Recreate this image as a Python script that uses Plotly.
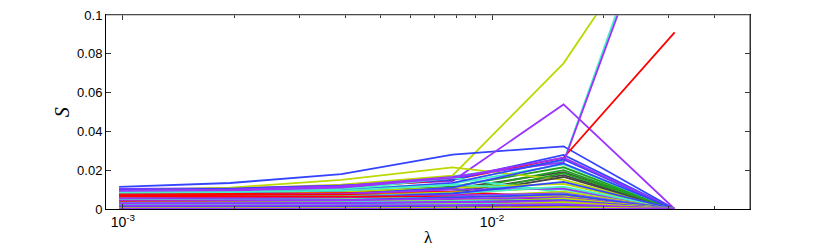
import plotly.graph_objects as go

# lambda values (2^-10 ... 2^-5)
lam = [0.0009765625, 0.001953125, 0.00390625, 0.0078125, 0.015625, 0.03125]

blue_lines = [
    [0.0114, 0.0134, 0.0180, 0.0280, 0.0323, 0],
    [0.0100, 0.0105, 0.0120, 0.0150, 0.0279, 0],
    [0.0080, 0.0085, 0.0095, 0.0135, 0.0255, 0],
    [0.0066, 0.0068, 0.0075, 0.0110, 0.0235, 0],
    [0.0052, 0.0054, 0.0060, 0.0080, 0.0140, 0],
    [0.0040, 0.0042, 0.0045, 0.0060, 0.0075, 0],
    [0.0025, 0.0026, 0.0028, 0.0035, 0.0045, 0],
    [0.0012, 0.0012, 0.0013, 0.0016, 0.0020, 0],
]
yellow_lines = [
    [0.0098, 0.0105, 0.0125, 0.0172, 0.0751, 0.160],
    [0.0094, 0.0110, 0.0150, 0.0214, 0.0150, 0],
    [0.0078, 0.0082, 0.0090, 0.0110, 0.0130, 0],
    [0.0062, 0.0064, 0.0070, 0.0085, 0.0110, 0],
    [0.0048, 0.0050, 0.0054, 0.0062, 0.0090, 0],
    [0.0035, 0.0036, 0.0038, 0.0044, 0.0070, 0],
    [0.0022, 0.0023, 0.0024, 0.0028, 0.0055, 0],
    [0.0010, 0.0010, 0.0011, 0.0013, 0.0035, 0],
    [0.0004, 0.0004, 0.0004, 0.0005, 0.0010, 0],
]
purple_lines = [
    [0.0104, 0.0108, 0.0120, 0.0144, 0.0539, 0],
    [0.0096, 0.0100, 0.0118, 0.0165, 0.0240, 0.180],
    [0.0090, 0.0095, 0.0110, 0.0160, 0.0265, 0],
    [0.0070, 0.0072, 0.0078, 0.0100, 0.0105, 0],
    [0.0056, 0.0057, 0.0060, 0.0070, 0.0080, 0],
    [0.0043, 0.0044, 0.0046, 0.0052, 0.0060, 0],
    [0.0030, 0.0030, 0.0032, 0.0036, 0.0040, 0],
    [0.0017, 0.0017, 0.0018, 0.0020, 0.0025, 0],
    [0.0002, 0.0002, 0.0002, 0.0002, 0.0003, 0],
]
aqua_lines = [
    [0.0099, 0.0103, 0.0118, 0.0168, 0.0245, 0.185],
    [0.0092, 0.0096, 0.0105, 0.0130, 0.0230, 0],
    [0.0088, 0.0092, 0.0100, 0.0160, 0.0085, 0],
    [0.0084, 0.0087, 0.0095, 0.0125, 0.0100, 0],
    [0.0060, 0.0062, 0.0066, 0.0080, 0.0115, 0],
    [0.0046, 0.0047, 0.0050, 0.0060, 0.0075, 0],
    [0.0033, 0.0034, 0.0035, 0.0040, 0.0050, 0],
    [0.0020, 0.0020, 0.0021, 0.0024, 0.0030, 0],
]
red_lines = [
    [0.0086, 0.0090, 0.0110, 0.0150, 0.0264, 0.0910],
    [0.0082, 0.0083, 0.0086, 0.0090, 0.0060, 0],
    [0.0077, 0.0078, 0.0080, 0.0083, 0.0048, 0],
    [0.0071, 0.0072, 0.0073, 0.0075, 0.0040, 0],
    [0.0065, 0.0065, 0.0066, 0.0064, 0.0030, 0],
    [0.0038, 0.0038, 0.0037, 0.0035, 0.0025, 0],
    [0.0015, 0.0015, 0.0015, 0.0014, 0.0012, 0],
]
green_lines = [
    [0.0074, 0.0076, 0.0085, 0.0115, 0.0215, 0],
    [0.0058, 0.0060, 0.0066, 0.0090, 0.0200, 0],
    [0.0045, 0.0046, 0.0050, 0.0065, 0.0185, 0],
    [0.0027, 0.0028, 0.0030, 0.0038, 0.0060, 0],
    [0.0013, 0.0013, 0.0014, 0.0016, 0.0022, 0],
]
gray_lines = [
    [0.0070, 0.0072, 0.0080, 0.0105, 0.0190, 0],
    [0.0055, 0.0056, 0.0062, 0.0085, 0.0175, 0],
    [0.0042, 0.0043, 0.0048, 0.0070, 0.0165, 0],
    [0.0032, 0.0033, 0.0036, 0.0048, 0.0040, 0],
    [0.0008, 0.0008, 0.0008, 0.0009, 0.0015, 0],
]

y_ticks = [0, 0.02, 0.04, 0.06, 0.08, 0.1]
y_labels = ["0", "0.02", "0.04", "0.06", "0.08", "0.1"]
x_ticks = [0.001, 0.01]
x_labels = ["10<sup>-3</sup>", "10<sup>-2</sup>"]
x_minor = [0.002, 0.003, 0.004, 0.005, 0.006, 0.007, 0.008, 0.009,
           0.02, 0.03, 0.04]

groups = [
    (gray_lines, "#444444"),
    (green_lines, "#22a022"),
    (aqua_lines, "#44f0c4"),
    (yellow_lines, "#bcd800"),
    (blue_lines, "#3344ff"),
    (purple_lines, "#9b33ff"),
    (red_lines, "#ff0000"),
]

fig = go.Figure()
# interleave colours so no single colour sits on top of the whole bundle
n_max = max(len(lines) for lines, _ in groups)
for i in range(n_max):
    for lines, color in groups:
        if i < len(lines):
            fig.add_trace(go.Scatter(
                x=lam, y=lines[i], mode="lines",
                line={"color": color, "width": 1.8},
                showlegend=False, hoverinfo="skip",
            ))

fig.update_layout(
    width=830, height=247,
    margin={"l": 106, "r": 80, "t": 8, "b": 38},
    plot_bgcolor="white", paper_bgcolor="white",
    font={"family": "Liberation Sans, Arial", "size": 13, "color": "black"},
    shapes=[
        dict(type="line", xref="paper", yref="paper", x0=0, x1=1, y0=1, y1=1,
             line={"color": "#999999", "width": 1.2}, layer="above"),
        dict(type="line", xref="paper", yref="paper", x0=1, x1=1, y0=0, y1=1,
             line={"color": "#555555", "width": 1.2}, layer="above"),
    ],
    annotations=[
        dict(text="<i>S</i>", xref="paper", yref="paper", x=-0.068, y=0.5,
             xanchor="center", yanchor="middle",
             showarrow=False, textangle=-90,
             font={"family": "Liberation Serif", "size": 20}),
        dict(text="λ", xref="paper", yref="paper", x=0.5, y=-0.145,
             xanchor="center", yanchor="middle", showarrow=False,
             font={"family": "Liberation Serif", "size": 17}),
    ],
)
fig.update_xaxes(
    type="log", range=[-3.0458, -1.301],
    tickvals=x_ticks, ticktext=x_labels, ticklabeloverflow="allow",
    tickfont={"size": 14},
    ticks="inside", ticklen=5, tickcolor="#333333",
    minor={"tickvals": x_minor, "ticks": "inside", "ticklen": 3,
           "tickcolor": "#333333"},
    showline=True, linecolor="black", linewidth=1, mirror="ticks",
    showgrid=False, zeroline=False,
)
fig.update_yaxes(
    range=[0, 0.1], tickvals=y_ticks, ticktext=y_labels,
    ticklabeloverflow="allow",
    ticks="inside", ticklen=5, tickcolor="#333333",
    showline=True, linecolor="black", linewidth=1, mirror="ticks",
    showgrid=False, zeroline=False,
)
fig.write_html(
    "out.html",
    config={"displayModeBar": False},
    post_script="document.body.style.margin='0';"
                "document.body.style.overflow='hidden';",
)
